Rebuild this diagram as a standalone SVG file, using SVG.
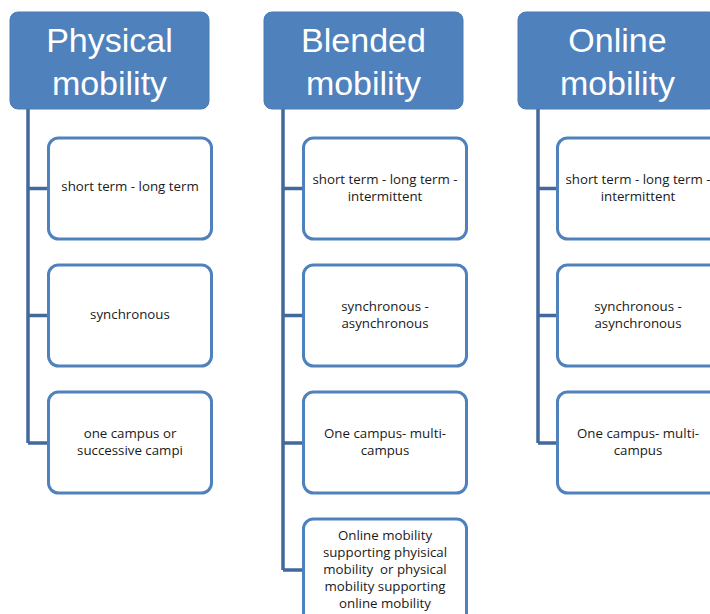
<svg xmlns="http://www.w3.org/2000/svg" width="710" height="614" viewBox="0 0 710 614">
<style>
.hdr{fill:#4f81bd;stroke:#4a7ab3;stroke-width:1}
.ht{font-family:"Liberation Sans","Noto Sans",sans-serif;font-size:34px;fill:#ffffff;text-anchor:middle}
.box{fill:#ffffff;stroke:#4f81bd;stroke-width:3}
.bt{font-family:"Open Sans","Liberation Sans",sans-serif;font-size:13.3px;fill:#1a1a1a;text-anchor:middle}
.con{stroke:#41699c;stroke-width:3.5;fill:none}
</style>
<rect width="710" height="614" fill="#ffffff"/>
<g id="connectors">
<path class="con" d="M28 109 V443 M28 188.5 H48 M28 315.5 H48 M28 443 H48"/>
<path class="con" d="M283 109 V570 M283 188.5 H303 M283 315.5 H303 M283 443 H303 M283 570 H303"/>
<path class="con" d="M538 109 V443 M538 188.5 H557 M538 315.5 H557 M538 443 H557"/>
</g>
<g id="h1"><rect class="hdr" x="10" y="12" width="199" height="97" rx="8"/><text class="ht" x="109.5" y="52">Physical</text><text class="ht" x="109.5" y="95">mobility</text></g>
<g id="h2"><rect class="hdr" x="264" y="12" width="199" height="97" rx="8"/><text class="ht" x="363.5" y="52">Blended</text><text class="ht" x="363.5" y="95">mobility</text></g>
<g id="h3"><rect class="hdr" x="518" y="12" width="199" height="97" rx="8"/><text class="ht" x="617.5" y="52">Online</text><text class="ht" x="617.5" y="95">mobility</text></g>
<g id="c1b1"><rect class="box" x="48.5" y="138" width="163" height="101" rx="10"/><text class="bt" x="130" y="191">short term - long term</text></g>
<g id="c1b2"><rect class="box" x="48.5" y="265" width="163" height="101" rx="10"/><text class="bt" x="130" y="319">synchronous</text></g>
<g id="c1b3"><rect class="box" x="48.5" y="392" width="163" height="101" rx="10"/><text class="bt" x="130" y="438">one campus or</text><text class="bt" x="130" y="455">successive campi</text></g>
<g id="c2b1"><rect class="box" x="303.5" y="138" width="163" height="101" rx="10"/><text class="bt" x="385" y="184">short term - long term -</text><text class="bt" x="385" y="201">intermittent</text></g>
<g id="c2b2"><rect class="box" x="303.5" y="265" width="163" height="101" rx="10"/><text class="bt" x="385" y="311">synchronous -</text><text class="bt" x="385" y="328">asynchronous</text></g>
<g id="c2b3"><rect class="box" x="303.5" y="392" width="163" height="101" rx="10"/><text class="bt" x="385" y="438">One campus- multi-</text><text class="bt" x="385" y="455">campus</text></g>
<g id="c2b4"><rect class="box" x="303.5" y="519" width="163" height="110" rx="10"/><text class="bt" x="385" y="540">Online mobility</text><text class="bt" x="385" y="557">supporting phyisical</text><text class="bt" x="385" y="574" xml:space="preserve">mobility  or physical</text><text class="bt" x="385" y="591">mobility supporting</text><text class="bt" x="385" y="608">online mobility</text></g>
<g id="c3b1"><rect class="box" x="557.5" y="138" width="163" height="101" rx="10"/><text class="bt" x="638" y="184">short term - long term -</text><text class="bt" x="638" y="201">intermittent</text></g>
<g id="c3b2"><rect class="box" x="557.5" y="265" width="163" height="101" rx="10"/><text class="bt" x="638" y="311">synchronous -</text><text class="bt" x="638" y="328">asynchronous</text></g>
<g id="c3b3"><rect class="box" x="557.5" y="392" width="163" height="101" rx="10"/><text class="bt" x="638" y="438">One campus- multi-</text><text class="bt" x="638" y="455">campus</text></g>
</svg>
